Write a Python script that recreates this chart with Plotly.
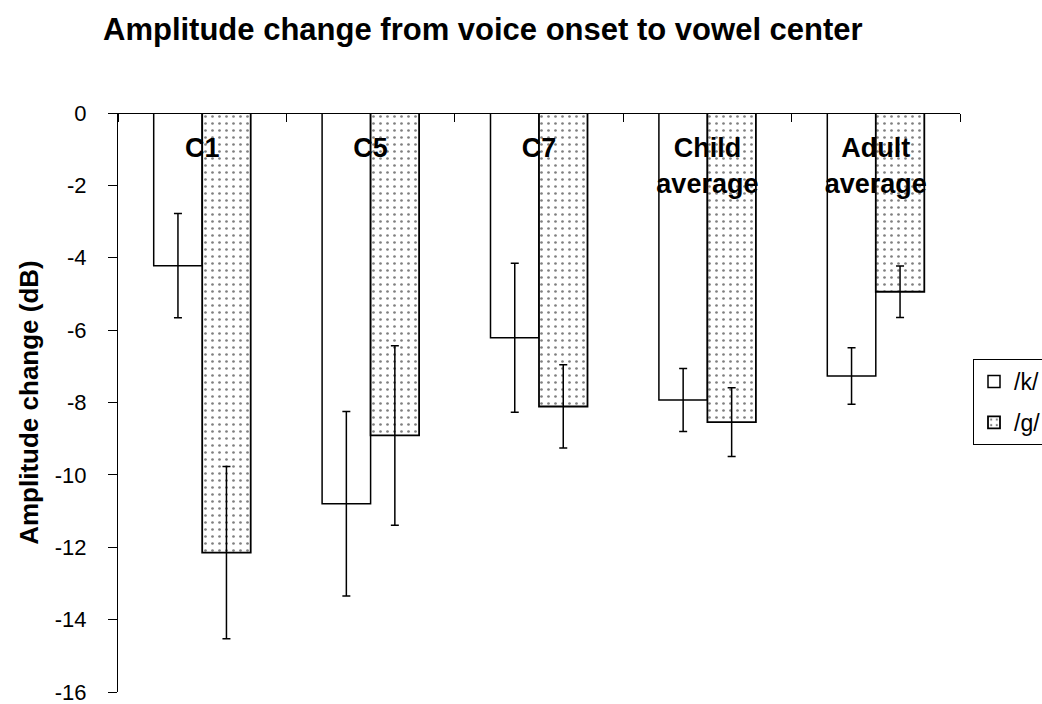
import plotly.graph_objects as go

categories = ["C1", "C5", "C7", "Child<br>average", "Adult<br>average"]
k_values = [-4.22, -10.8, -6.21, -7.93, -7.27]
k_errors = [1.44, 2.55, 2.06, 0.87, 0.78]
g_values = [-12.15, -8.91, -8.11, -8.54, -4.94]
g_errors = [2.38, 2.48, 1.15, 0.95, 0.71]
series_names = ["/k/", "/g/"]
y_tickvals = [0, -2, -4, -6, -8, -10, -12, -14, -16]
y_ticktext = ["0", "-2", "-4", "-6", "-8", "-10", "-12", "-14", "-16"]

FONT = "Liberation Sans, Arial, Helvetica, sans-serif"

fig = go.Figure()
fig.add_trace(go.Bar(
    x=categories, y=k_values, name=series_names[0], legendgroup="k",
    marker=dict(color="white", line=dict(color="black", width=1.5)),
    error_y=dict(type="data", array=k_errors, visible=True,
                 color="black", thickness=1.5, width=4),
))
fig.add_trace(go.Bar(
    x=categories, y=g_values, name=series_names[1], legendgroup="g",
    marker=dict(color="white", line=dict(color="black", width=1.8),
                pattern=dict(shape=".", fgcolor="black", bgcolor="white",
                             size=7, solidity=0.12)),
    error_y=dict(type="data", array=g_errors, visible=True,
                 color="black", thickness=1.5, width=4),
))

fig.update_layout(
    width=1042, height=704,
    paper_bgcolor="white", plot_bgcolor="white",
    barmode="group", bargap=0.424, bargroupgap=0,
    margin=dict(l=118, r=82, t=113, b=12, autoexpand=False),
    font=dict(family=FONT, color="black"),
    title=dict(text="Amplitude change from voice onset to vowel center",
               x=103 / 1042, xanchor="left", xref="container",
               y=1 - 29 / 704, yanchor="middle", yref="container",
               font=dict(size=31, weight="bold", family=FONT, color="black")),
    legend=dict(x=(973 - 118) / 842, xanchor="left",
                y=(692 - 359) / 579, yanchor="top",
                bordercolor="black", borderwidth=1, bgcolor="white",
                font=dict(size=23, family=FONT, color="black"),
                traceorder="grouped", tracegroupgap=8),
    showlegend=True,
)

fig.update_xaxes(
    side="bottom", anchor="free", position=1,
    showline=True, linecolor="black", linewidth=1,
    ticks="outside", ticklen=8, tickcolor="black", tickson="boundaries",
    ticklabelstandoff=11,
    tickfont=dict(size=27, weight="bold", family=FONT, color="black"),
    showgrid=False, zeroline=False,
)
fig.update_yaxes(
    range=[-16, 0], tickvals=y_tickvals, ticktext=y_ticktext,
    showline=True, linecolor="black", linewidth=1,
    ticks="outside", ticklen=9, tickcolor="black",
    ticklabelstandoff=17, ticklabeloverflow="allow",
    tickfont=dict(size=22, family=FONT, color="black"),
    showgrid=False, zeroline=False,
    title=dict(text="Amplitude change (dB)", standoff=8,
               font=dict(size=26, weight="bold", family=FONT, color="black")),
)

fig.write_html("out.html",
               config={"displayModeBar": False},
               post_script="document.body.style.margin='0';"
                           "document.body.style.overflow='hidden';")
